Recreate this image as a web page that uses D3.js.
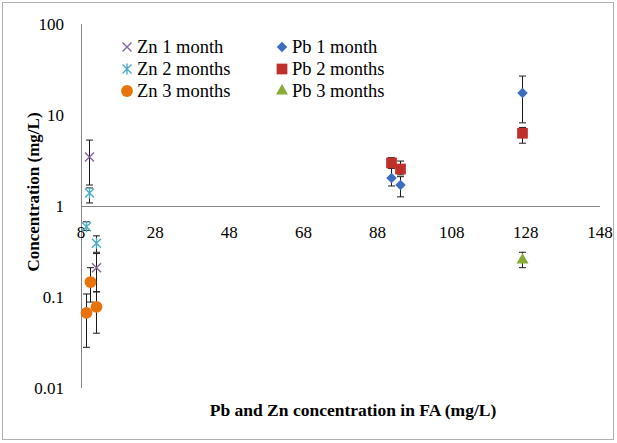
<!DOCTYPE html>
<html>
<head>
<meta charset="utf-8">
<script src="https://cdn.jsdelivr.net/npm/d3@7"></script>
<style>
  body { margin: 0; background: #fff; }
</style>
</head>
<body>
<div id="chart"></div>
<script>
// Data
const xTicks = [8, 28, 48, 68, 88, 108, 128, 148];
const yTicks = [0.01, 0.1, 1, 10, 100];

const zn1FA = [10.2, 12.0];
const zn1Conc = [3.45, 0.21];
const zn1Low = [1.7, 0.114];
const zn1High = [5.3, 0.30];

const zn2FA = [10.2, 9.3, 12.0];
const zn2Conc = [1.39, 0.59, 0.39];
const zn2Low = [1.08, 0.54, 0.31];
const zn2High = [1.58, 0.67, 0.47];

const zn3FA = [10.4, 9.3, 12.0];
const zn3Conc = [0.146, 0.067, 0.078];
const zn3Low = [0.088, 0.028, 0.04];
const zn3High = [0.21, 0.108, 0.114];

const pb1FA = [91.7, 94.1, 126.9];
const pb1Conc = [2.03, 1.70, 17.4];
const pb1Low = [1.66, 1.26, 8.2];
const pb1High = [2.6, 2.1, 26.8];

const pb2FA = [91.7, 94.1, 126.9];
const pb2Conc = [2.97, 2.55, 6.3];
const pb2Low = [2.6, 2.2, 4.9];
const pb2High = [3.4, 3.12, 7.3];

const pb3FA = [126.9];
const pb3Conc = [0.255];
const pb3Low = [0.21];
const pb3High = [0.31];

const series = [
  { name: "Zn 1 month", fa: zn1FA, conc: zn1Conc, lo: zn1Low, hi: zn1High, shape: "x", color: "#8064A2" },
  { name: "Zn 2 months", fa: zn2FA, conc: zn2Conc, lo: zn2Low, hi: zn2High, shape: "star", color: "#4BACC6" },
  { name: "Zn 3 months", fa: zn3FA, conc: zn3Conc, lo: zn3Low, hi: zn3High, shape: "circle", color: "#E8730C" },
  { name: "Pb 1 month", fa: pb1FA, conc: pb1Conc, lo: pb1Low, hi: pb1High, shape: "diamond", color: "#3D6DBE" },
  { name: "Pb 2 months", fa: pb2FA, conc: pb2Conc, lo: pb2Low, hi: pb2High, shape: "square", color: "#C0302B" },
  { name: "Pb 3 months", fa: pb3FA, conc: pb3Conc, lo: pb3Low, hi: pb3High, shape: "triangle", color: "#86AC34" }
];

const W = 617, H = 443;
const plot = { left: 81, right: 600, top: 24, bottom: 388 };
const serif = "'Liberation Serif', 'DejaVu Serif', serif";

const svg = d3.select("#chart")
  .append("svg")
  .attr("width", W)
  .attr("height", H)
  .style("font-family", serif);

// outer frame
svg.append("rect")
  .attr("x", 2.5).attr("y", 2.5)
  .attr("width", 611).attr("height", 437)
  .attr("fill", "none")
  .attr("stroke", "#b0b0b0");

const xScale = d3.scaleLinear().domain([8, 148]).range([plot.left, plot.right]);
const yScale = d3.scaleLog().domain([0.01, 100]).range([plot.bottom, plot.top]);

// axis lines (x axis crosses at 1)
svg.append("line")
  .attr("x1", plot.left + 0.5).attr("x2", plot.left + 0.5)
  .attr("y1", plot.top).attr("y2", plot.bottom)
  .attr("stroke", "#868686");

svg.append("line")
  .attr("x1", plot.left).attr("x2", plot.right)
  .attr("y1", Math.round(yScale(1)) + 0.5).attr("y2", Math.round(yScale(1)) + 0.5)
  .attr("stroke", "#868686");

// tick labels
svg.selectAll(".ylab")
  .data(yTicks)
  .enter()
  .append("text")
  .attr("class", "ylab")
  .attr("x", 64)
  .attr("y", d => yScale(d))
  .attr("dy", "0.35em")
  .attr("text-anchor", "end")
  .style("font-size", "17px")
  .text(d => d);

svg.selectAll(".xlab")
  .data(xTicks)
  .enter()
  .append("text")
  .attr("class", "xlab")
  .attr("x", d => xScale(d))
  .attr("y", yScale(1) + 26)
  .attr("dy", "0.35em")
  .attr("text-anchor", "middle")
  .style("font-size", "17px")
  .text(d => d);

// axis titles
svg.append("text")
  .attr("transform", "rotate(-90)")
  .attr("x", -192)
  .attr("y", 39)
  .attr("text-anchor", "middle")
  .style("font-size", "17px")
  .style("font-weight", "bold")
  .text("Concentration  (mg/L)");

svg.append("text")
  .attr("x", 353)
  .attr("y", 416)
  .attr("text-anchor", "middle")
  .style("font-size", "17.5px")
  .style("font-weight", "bold")
  .text("Pb and Zn concentration  in FA (mg/L)");

function drawMarker(g, shape, color) {
  if (shape === "x") {
    g.append("path")
      .attr("d", "M-4.5,-4.5L4.5,4.5M-4.5,4.5L4.5,-4.5")
      .attr("stroke", color).attr("stroke-width", 1.4).attr("fill", "none");
  } else if (shape === "star") {
    g.append("path")
      .attr("d", "M-4.5,-4.5L4.5,4.5M-4.5,4.5L4.5,-4.5M0,-5.5L0,5.5")
      .attr("stroke", color).attr("stroke-width", 1.4).attr("fill", "none");
  } else if (shape === "circle") {
    g.append("path").attr("d", d3.symbol(d3.symbolCircle, 110)()).attr("fill", color);
  } else if (shape === "diamond") {
    g.append("path").attr("d", d3.symbol(d3.symbolSquare, 55)())
      .attr("transform", "rotate(45)").attr("fill", color);
  } else if (shape === "square") {
    g.append("path").attr("d", d3.symbol(d3.symbolSquare, 115)()).attr("fill", color);
  } else if (shape === "triangle") {
    g.append("path").attr("d", d3.symbol(d3.symbolTriangle, 62)()).attr("fill", color);
  }
}

// error bars first
series.forEach(s => {
  const eg = svg.append("g").attr("stroke", "#1a1a1a").attr("stroke-width", 1);
  s.fa.forEach((f, i) => {
    const cx = Math.round(xScale(f)) + 0.5;
    const y1 = yScale(s.hi[i]), y2 = yScale(s.lo[i]);
    eg.append("line").attr("x1", cx).attr("x2", cx).attr("y1", y1).attr("y2", y2);
    eg.append("line").attr("x1", cx - 3.5).attr("x2", cx + 3.5).attr("y1", y1).attr("y2", y1);
    eg.append("line").attr("x1", cx - 3.5).attr("x2", cx + 3.5).attr("y1", y2).attr("y2", y2);
  });
});

// markers
series.forEach(s => {
  s.fa.forEach((f, i) => {
    const g = svg.append("g")
      .attr("transform", `translate(${Math.round(xScale(f)) + 0.5},${yScale(s.conc[i])})`);
    drawMarker(g, s.shape, s.color);
  });
});

// legend
const legendCols = [127, 282];
const legendRows = [47, 69, 91];
series.forEach((s, i) => {
  const lx = legendCols[Math.floor(i / 3)];
  const ly = legendRows[i % 3];
  const g = svg.append("g").attr("transform", `translate(${lx},${ly})`);
  drawMarker(g, s.shape, s.color);
  svg.append("text")
    .attr("x", lx + 10)
    .attr("y", ly)
    .attr("dy", "0.35em")
    .style("font-size", "18.5px")
    .text(s.name);
});
</script>
</body>
</html>
